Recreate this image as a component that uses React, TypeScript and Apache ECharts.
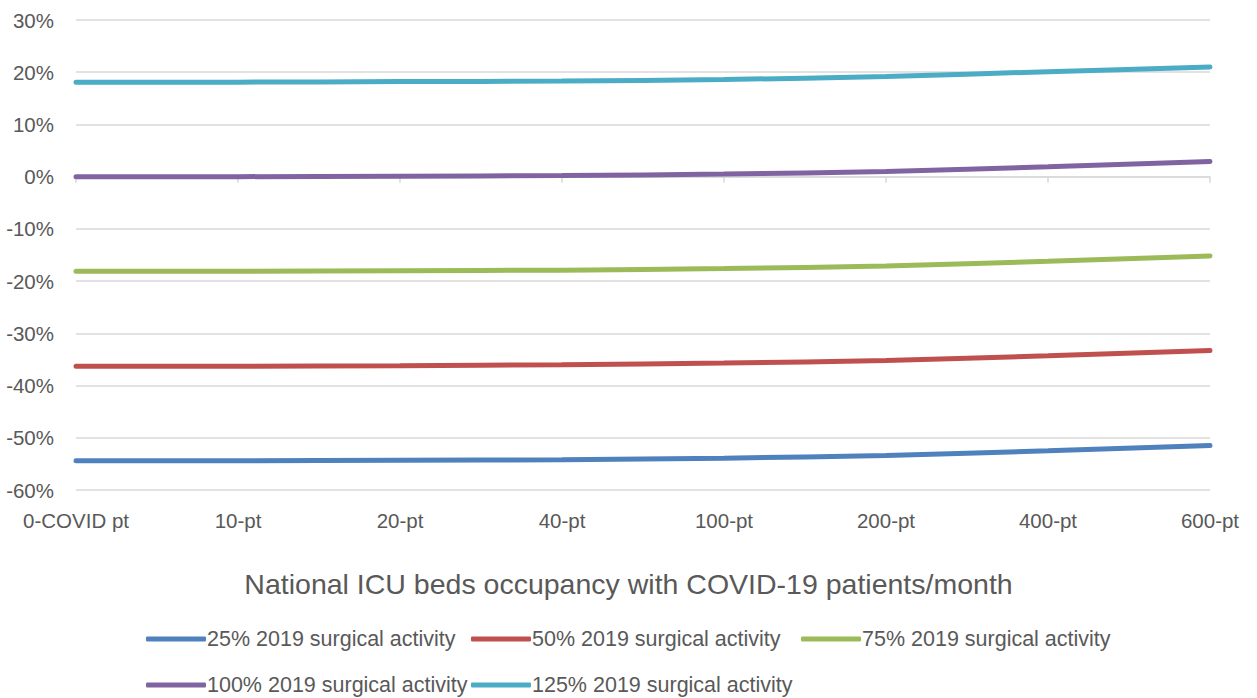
import React, { useEffect, useRef } from "react";
import * as echarts from "echarts";

const categories = ["0-COVID pt", "10-pt", "20-pt", "40-pt", "100-pt", "200-pt", "400-pt", "600-pt"];
const seriesNames = [
  "25% 2019 surgical activity",
  "50% 2019 surgical activity",
  "75% 2019 surgical activity",
  "100% 2019 surgical activity",
  "125% 2019 surgical activity",
];
const s25 = [-54.4, -54.4, -54.3, -54.2, -53.9, -53.4, -52.5, -51.5];
const s50 = [-36.3, -36.3, -36.2, -36.0, -35.7, -35.2, -34.3, -33.3];
const s75 = [-18.1, -18.1, -18.0, -17.9, -17.6, -17.1, -16.2, -15.2];
const s100 = [0, 0, 0.1, 0.2, 0.5, 1.0, 1.9, 2.9];
const s125 = [18.1, 18.1, 18.2, 18.3, 18.6, 19.2, 20.1, 21.0];
const colors = ["#4F81BD", "#C0504D", "#9BBB59", "#8064A2", "#4BACC6"];
const axisTitle = "National ICU beds occupancy with COVID-19 patients/month";

const FONT = "Liberation Sans";
const TEXT = "#595959";

export default function App() {
  const ref = useRef<HTMLDivElement>(null);
  useEffect(() => {
    const chart = echarts.init(ref.current!, null, { renderer: "svg" });
    const data = [s25, s50, s75, s100, s125];
    const legendPos = [
      { left: 141, top: 623 },
      { left: 466, top: 623 },
      { left: 796, top: 623 },
      { left: 141, top: 669 },
      { left: 466, top: 669 },
    ];
    chart.setOption({
      animation: false,
      textStyle: { fontFamily: FONT },
      grid: { left: 76, right: 47, top: 20, bottom: 208, containLabel: false },
      title: {
        text: axisTitle,
        left: "center",
        top: 564,
        textStyle: { fontFamily: FONT, fontSize: 28.5, fontWeight: "normal", color: TEXT },
      },
      legend: seriesNames.map((n, i) => ({
        data: [n],
        left: legendPos[i].left,
        top: legendPos[i].top,
        icon: "roundRect",
        itemWidth: 60,
        itemHeight: 5,
        itemGap: 0,
        textStyle: { fontFamily: FONT, fontSize: 21.5, color: TEXT, padding: [0, 0, 0, -4] },
      })),
      xAxis: [
        {
          type: "category",
          data: categories,
          boundaryGap: false,
          position: "bottom",
          axisLine: { onZero: true, lineStyle: { color: "#D9D9D9", width: 1.5 } },
          axisTick: { show: true, length: 6, lineStyle: { color: "#D9D9D9", width: 1.5 } },
          axisLabel: { show: false },
          splitLine: { show: false },
        },
        {
          type: "category",
          data: categories,
          boundaryGap: false,
          position: "bottom",
          axisLine: { show: false, onZero: false },
          axisTick: { show: false },
          axisLabel: { fontFamily: FONT, fontSize: 20.5, color: TEXT, margin: 20 },
          splitLine: { show: false },
        },
      ],
      yAxis: {
        type: "value",
        min: -60,
        max: 30,
        interval: 10,
        axisLine: { show: false },
        axisTick: { show: false },
        axisLabel: { formatter: "{value}%", fontFamily: FONT, fontSize: 20.5, color: TEXT, margin: 22 },
        splitLine: { lineStyle: { color: "#D9D9D9", width: 1.5 } },
      },
      series: seriesNames.map((n, i) => ({
        name: n,
        type: "line",
        xAxisIndex: 0,
        data: data[i],
        smooth: 0.3,
        showSymbol: false,
        symbol: "none",
        color: colors[i],
        lineStyle: { color: colors[i], width: 5, cap: "round" },
      })),
    });
    return () => chart.dispose();
  }, []);
  return <div ref={ref} style={{ width: 1257, height: 698, position: "absolute", left: 0, top: 0 }} />;
}
